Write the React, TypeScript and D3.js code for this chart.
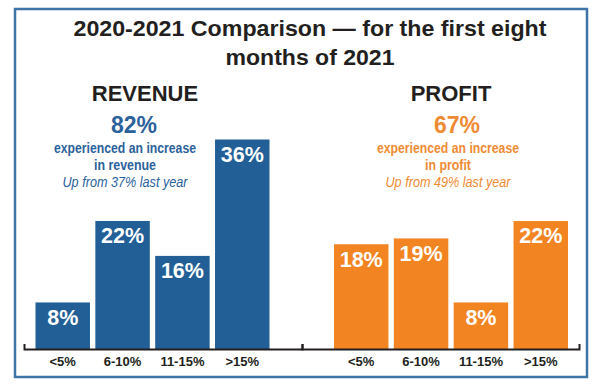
import React, { useEffect, useRef } from "react";
import * as d3 from "d3";

const categories = ["<5%", "6-10%", "11-15%", ">15%"];
const revenueValues = [8, 22, 16, 36];
const profitValues = [18, 19, 8, 22];
const titleLines = ["2020-2021 Comparison \u2014 for the first eight", "months of 2021"];
const revenueText = ["REVENUE", "82%", "experienced an increase", "in revenue", "Up from 37% last year"];
const profitText = ["PROFIT", "67%", "experienced an increase", "in profit", "Up from 49% last year"];

const W = 600;
const H = 390;
const BLUE = "#215f96";
const ORANGE = "#f38422";
const BLUE_TEXT = "#2a629b";
const ORANGE_TEXT = "#ef8b33";
const DARK = "#231f20";
const FONT = "'Liberation Sans', Arial, sans-serif";

export default function App() {
  const ref = useRef<SVGSVGElement>(null);

  useEffect(() => {
    const svg = d3.select(ref.current);
    svg.selectAll("*").remove();

    svg.append("rect").attr("width", W).attr("height", H).attr("fill", "#ffffff");
    svg.append("rect")
      .attr("x", 15).attr("y", 9).attr("width", 572).attr("height", 368)
      .attr("fill", "none").attr("stroke", "#3f74a9").attr("stroke-width", 2.5);

    // title
    const titleWidths = [473, 169];
    svg.selectAll("text.title").data(titleLines).join("text")
      .attr("class", "title")
      .attr("x", 310).attr("y", (_, i) => 35.5 + i * 29.5)
      .attr("text-anchor", "middle")
      .attr("font-family", FONT).attr("font-weight", 700).attr("font-size", 22.5)
      .attr("textLength", (_, i) => titleWidths[i]).attr("lengthAdjust", "spacingAndGlyphs")
      .attr("fill", DARK)
      .text((d) => d);

    const y = d3.scaleLinear().domain([0, 36]).range([349, 139.5]);

    const panels = [
      { values: revenueValues, color: BLUE, textColor: BLUE_TEXT, texts: revenueText, range: [35.5, 269.5], axis: [24, 302], head: 145, big: 134, sub: 125, lens: [142, 62, 125] },
      { values: profitValues, color: ORANGE, textColor: ORANGE_TEXT, texts: profitText, range: [334, 568], axis: [302, 579], head: 451, big: 457, sub: 448, lens: [142, 46, 125] },
    ];

    panels.forEach((p) => {
      const x = d3.scaleBand<string>().domain(categories).range(p.range as [number, number]).paddingInner(0.09).paddingOuter(0);
      const g = svg.append("g");

      g.selectAll("rect.bar").data(p.values).join("rect")
        .attr("class", "bar")
        .attr("x", (_, i) => x(categories[i])!)
        .attr("y", (d) => y(d))
        .attr("width", x.bandwidth())
        .attr("height", (d) => y(0) - y(d))
        .attr("fill", p.color);

      g.selectAll("text.val").data(p.values).join("text")
        .attr("class", "val")
        .attr("x", (_, i) => x(categories[i])! + x.bandwidth() / 2)
        .attr("y", (d) => y(d) + 22.5)
        .attr("text-anchor", "middle")
        .attr("font-family", FONT).attr("font-weight", 700).attr("font-size", 21.5)
        .attr("fill", "#ffffff")
        .text((d) => `${d}%`);

      // axis line with upward end ticks
      const ax = d3.scaleLinear().range(p.axis as [number, number]);
      const axisG = g.append("g").attr("transform", `translate(0,${y(0)})`)
        .call(d3.axisBottom(ax).tickValues([]).tickSizeOuter(-5));
      axisG.select(".domain").attr("stroke", DARK).attr("stroke-width", 2).attr("fill", "none");

      g.selectAll("text.cat").data(categories).join("text")
        .attr("class", "cat")
        .attr("x", (d) => x(d)! + x.bandwidth() / 2)
        .attr("y", 366)
        .attr("text-anchor", "middle")
        .attr("font-family", FONT).attr("font-weight", 700).attr("font-size", 13)
        .attr("fill", DARK)
        .text((d) => d);

      g.append("text").attr("x", p.head).attr("y", 100.7).attr("text-anchor", "middle")
        .attr("font-family", FONT).attr("font-weight", 700).attr("font-size", 22)
        .attr("fill", DARK).text(p.texts[0]);
      g.append("text").attr("x", p.big).attr("y", 133).attr("text-anchor", "middle")
        .attr("font-family", FONT).attr("font-weight", 700).attr("font-size", 23)
        .attr("fill", p.textColor).text(p.texts[1]);
      g.append("text").attr("x", p.sub).attr("y", 153.3).attr("text-anchor", "middle")
        .attr("font-family", FONT).attr("font-weight", 700).attr("font-size", 14)
        .attr("textLength", p.lens[0]).attr("lengthAdjust", "spacingAndGlyphs")
        .attr("fill", p.textColor).text(p.texts[2]);
      g.append("text").attr("x", p.sub).attr("y", 170).attr("text-anchor", "middle")
        .attr("font-family", FONT).attr("font-weight", 700).attr("font-size", 14)
        .attr("textLength", p.lens[1]).attr("lengthAdjust", "spacingAndGlyphs")
        .attr("fill", p.textColor).text(p.texts[3]);
      g.append("text").attr("x", p.sub).attr("y", 186.7).attr("text-anchor", "middle")
        .attr("font-family", FONT).attr("font-style", "italic").attr("font-size", 14)
        .attr("textLength", p.lens[2]).attr("lengthAdjust", "spacingAndGlyphs")
        .attr("fill", p.textColor).text(p.texts[4]);
    });
  }, []);

  return (
    <svg ref={ref} width={W} height={H} style={{ position: "absolute", left: 0, top: 0, display: "block" }} />
  );
}
